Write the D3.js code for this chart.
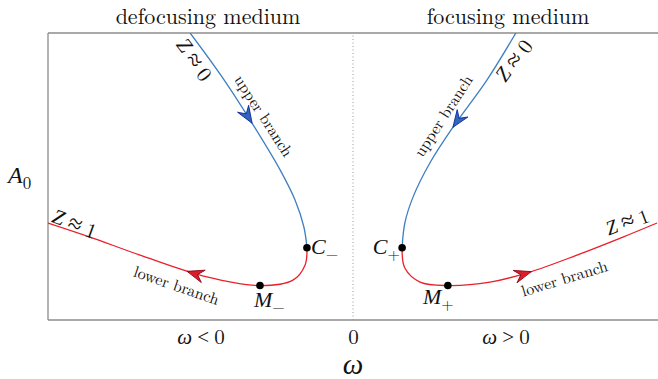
<!DOCTYPE html>
<html><head><meta charset="utf-8">
<script src="https://cdn.jsdelivr.net/npm/d3@7"></script>
<style>
html,body{margin:0;padding:0;background:#fff;}
svg{display:block;}
</style></head>
<body>
<svg id="chart" width="658" height="379"></svg>
<script>
// ---- data (ω, A0) ----
const upperLeftOmega = [-0.534, -0.43, -0.331, -0.239, -0.190, -0.161, -0.151];
const upperLeftA     = [ 1.000,  0.848, 0.686,  0.523,  0.418,  0.324,  0.252];
const lowerLeftOmega = [-0.151, -0.157, -0.197, -0.305, -0.479, -0.698, -0.862, -1.0];
const lowerLeftA     = [ 0.252,  0.192,  0.139,  0.120,  0.150,  0.226,  0.289, 0.338];
const upperRightOmega = [0.534, 0.439, 0.328, 0.252, 0.197, 0.170, 0.161];
const upperRightA     = [1.000, 0.836, 0.672, 0.547, 0.429, 0.338, 0.252];
const lowerRightOmega = [0.161, 0.170, 0.220, 0.311, 0.449, 0.580, 0.734, 0.885, 0.997];
const lowerRightA     = [0.252, 0.181, 0.132, 0.120, 0.132, 0.167, 0.226, 0.289, 0.338];
const specialNames = ["C_-", "M_-", "C_+", "M_+"];
const specialOmega = [-0.151, -0.305, 0.161, 0.311];
const specialA     = [ 0.252,  0.120, 0.252, 0.120];
const tickValues = [-0.5, 0, 0.5];
const tickLabels = ["ω < 0", "0", "ω > 0"];
const arrowOmega = [-0.331, 0.328, -0.544, 0.585]; // upper L, upper R, lower L, lower R

const ROMAN = '"Latin Modern Roman"';
const MATH = '"Liberation Serif"';
const svg = d3.select("#chart");
const W = 658, H = 379;
const m = {l: 48, r: 0, t: 33, b: 59};
const x = d3.scaleLinear().domain([-1, 1]).range([m.l, W - m.r]);
const y = d3.scaleLinear().domain([0, 1]).range([H - m.b, m.t]);

svg.append("defs").append("clipPath").attr("id", "clip")
  .append("rect").attr("x", m.l).attr("y", m.t).attr("width", W - m.l).attr("height", H - m.b - m.t);

// mixed text: kind "r" roman, "i" math italic, "m" math upright, "rel" relation symbol, "sub" subscript
function fill(t, parts, size) {
  parts.forEach(p => {
    const s = t.append("tspan").text(p[0]).attr("fill", "#111");
    if (p[1] === "r") s.style("font-family", ROMAN).style("font-style", "normal");
    if (p[1] === "i") s.style("font-family", MATH).style("font-style", "italic");
    if (p[1] === "m") s.style("font-family", MATH).style("font-style", "normal");
    if (p[1] === "rel") s.style("font-family", MATH).style("font-style", "normal").style("font-size", Math.round(size * 1.2) + "px");
    if (p[1] === "sub") s.style("font-family", ROMAN).style("font-style", "normal")
      .style("font-size", Math.round(size * 0.72) + "px").attr("dy", size * 0.25);
  });
  return t;
}

// axes frame
const axisCol = "#8c8c8c";
svg.append("line").attr("x1", m.l).attr("x2", W).attr("y1", y(1)).attr("y2", y(1)).attr("stroke", axisCol).attr("stroke-width", 1.3);
svg.append("line").attr("x1", m.l).attr("x2", W).attr("y1", y(0)).attr("y2", y(0)).attr("stroke", axisCol).attr("stroke-width", 1.3);
svg.append("line").attr("x1", m.l).attr("x2", m.l).attr("y1", y(0)).attr("y2", y(1)).attr("stroke", axisCol).attr("stroke-width", 1.3);
// dotted zero line
svg.append("line").attr("x1", x(0)).attr("x2", x(0)).attr("y1", y(0)).attr("y2", y(1))
  .attr("stroke", "#999").attr("stroke-width", 1).attr("stroke-dasharray", "1,2.5");

// bottom axis tick labels
const xAxis = d3.axisBottom(x).tickValues(tickValues).tickSize(0)
  .tickFormat((d, i) => tickLabels[i]);
const gx = svg.append("g").attr("transform", `translate(0,${y(0)})`).call(xAxis);
gx.attr("font-family", null).attr("font-size", null);
gx.select(".domain").remove();
gx.selectAll("text").each(function(d, i) {
  const t = d3.select(this);
  const lab = t.text();
  t.text(null).attr("dy", null).attr("y", 24).style("font-size", "21px");
  const parts = lab.split(" ");
  if (parts.length === 3) fill(t, [[parts[0], "i"], [" " + parts[1] + " ", "m"], [parts[2], "r"]], 21);
  else fill(t, [[lab, "r"]], 21);
});

// axis titles
svg.append("text").attr("x", x(0)).attr("y", 374).attr("text-anchor", "middle")
  .style("font-family", MATH).style("font-size", "29px").style("font-style", "italic").attr("fill", "#111").text("ω");
fill(svg.append("text").attr("x", 8).attr("y", 183).style("font-size", "24px"), [["A", "i"], ["0", "sub"]], 24);

svg.append("text").attr("x", 208).attr("y", 24).attr("text-anchor", "middle").style("font-family", ROMAN)
  .style("font-size", "22px").attr("fill", "#111").text("defocusing medium");
svg.append("text").attr("x", 508).attr("y", 24).attr("text-anchor", "middle").style("font-family", ROMAN)
  .style("font-size", "22px").attr("fill", "#111").text("focusing medium");

// curves
const line = d3.line().x(d => x(d[0])).y(d => y(d[1])).curve(d3.curveCatmullRom.alpha(0.5));
const zip = (a, b) => a.map((v, i) => [v, b[i]]);
const blue = "#3d7fc1", red = "#e8202a";
const g = svg.append("g").attr("clip-path", "url(#clip)");
const curves = [
  {pts: zip(upperLeftOmega, upperLeftA), col: blue},
  {pts: zip(upperRightOmega, upperRightA), col: blue},
  {pts: zip(lowerLeftOmega, lowerLeftA), col: red},
  {pts: zip(lowerRightOmega, lowerRightA), col: red},
];
const paths = curves.map(c => g.append("path").attr("d", line(c.pts)).attr("fill", "none")
  .attr("stroke", c.col).attr("stroke-width", 1.3).node());

// arrowheads
const arrowStyle = [
  {fill: "#2f68b8", stroke: "#1020a0"},
  {fill: "#2f68b8", stroke: "#1020a0"},
  {fill: "#d8202a", stroke: "#900010"},
  {fill: "#d8202a", stroke: "#900010"},
];
paths.forEach((p, i) => {
  const L = p.getTotalLength();
  const tx = x(arrowOmega[i]);
  let best = 0, bd = 1e9;
  for (let l = 0; l <= L; l += 0.5) {
    const q = p.getPointAtLength(l);
    const d = Math.abs(q.x - tx);
    if (d < bd) { bd = d; best = l; }
  }
  const p1 = p.getPointAtLength(best), p0 = p.getPointAtLength(Math.max(0, best - 3));
  const ang = Math.atan2(p1.y - p0.y, p1.x - p0.x) * 180 / Math.PI;
  svg.append("path").attr("d", "M0,0 L-17,-6.5 L-11,0 L-17,6.5 Z")
    .attr("transform", `translate(${p1.x},${p1.y}) rotate(${ang})`)
    .attr("fill", arrowStyle[i].fill).attr("stroke", arrowStyle[i].stroke).attr("stroke-width", 0.8)
    .attr("stroke-linejoin", "miter");
});

// special points
svg.selectAll("circle.sp").data(specialNames).join("circle").attr("class", "sp")
  .attr("cx", (d, i) => x(specialOmega[i])).attr("cy", (d, i) => y(specialA[i])).attr("r", 3.8).attr("fill", "#000");

const labelPos = [[311, 254, "start"], [254, 307, "start"], [400, 254, "end"], [423, 304, "start"]];
specialNames.forEach((n, i) => {
  const [b, s] = n.split("_");
  const t = svg.append("text").attr("x", labelPos[i][0]).attr("y", labelPos[i][1])
    .attr("text-anchor", labelPos[i][2]).style("font-size", "22px");
  fill(t, [[b, "i"], [s === "-" ? "−" : "+", "sub"]], 22);
});

// rotated annotations
function rot(parts, cx, cy, ang, size) {
  const t = svg.append("text").attr("transform", `translate(${cx},${cy}) rotate(${ang})`)
    .attr("text-anchor", "middle").attr("dominant-baseline", "central")
    .style("font-size", size + "px");
  fill(t, parts, size);
}
rot([["Z", "i"], [" ", "m"], ["≈", "rel"], [" ", "m"], ["0", "r"]], 195, 59, 53, 21);
rot([["upper branch", "r"]], 265, 115, 57, 16);
rot([["Z", "i"], [" ", "m"], ["≈", "rel"], [" ", "m"], ["0", "r"]], 513, 60, -55, 21);
rot([["upper branch", "r"]], 442, 115, -57, 16);
rot([["Z", "i"], [" ", "m"], ["≈", "rel"], [" ", "m"], ["1", "r"]], 75, 223, 20, 21);
rot([["lower branch", "r"]], 177, 284, 19, 16);
rot([["Z", "i"], [" ", "m"], ["≈", "rel"], [" ", "m"], ["1", "r"]], 627, 221, -21, 20);
rot([["lower branch", "r"]], 564, 277, -17, 16);
</script>
</body></html>
